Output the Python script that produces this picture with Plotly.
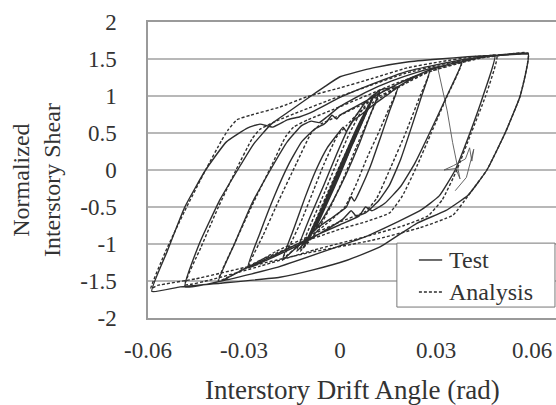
import plotly.graph_objects as go

# drift angle (rad) / normalized shear, one list per cycle
# each cycle: from +peak down to -peak, then back up to +peak

# --- Test (solid) ---
test_x_005 = [0.0, 0.005, 0.002, -0.001, -0.005, -0.002, 0.001, 0.005]
test_y_005 = [0.0, 0.50, 0.25, -0.05, -0.52, -0.25, 0.05, 0.50]

test_x_0075 = [0.0075, 0.004, 0.0, -0.004, -0.0075, -0.004, 0.0, 0.004, 0.0075]
test_y_0075 = [0.76, 0.45, 0.05, -0.35, -0.78, -0.45, -0.06, 0.36, 0.76]

test_x_010a = [0.0103, 0.007, 0.003, -0.002, -0.006, -0.0115, -0.008, -0.004, 0.0, 0.005, 0.0103]
test_y_010a = [0.98, 0.70, 0.30, -0.15, -0.55, -1.05, -0.78, -0.40, 0.0, 0.45, 0.98]

test_x_010b = [0.0103, 0.0065, 0.0025, -0.0025, -0.007, -0.0115, -0.0075, -0.0035, 0.0005, 0.0055, 0.0103]
test_y_010b = [0.98, 0.63, 0.22, -0.25, -0.66, -1.05, -0.70, -0.32, 0.06, 0.50, 0.98]

test_x_010c = [0.0105, 0.0075, 0.0035, -0.0015, -0.0055, -0.0112, -0.0085, -0.0045, -0.0005, 0.0045, 0.0105]
test_y_010c = [1.00, 0.74, 0.34, -0.12, -0.50, -1.02, -0.82, -0.44, -0.04, 0.40, 1.00]

test_x_0125 = [0.0125, 0.0095, 0.006, 0.002, -0.002, -0.006, -0.0105, -0.0135,
               -0.0095, -0.005, -0.001, 0.003, 0.008, 0.0125]
test_y_0125 = [1.08, 0.75, 0.35, -0.05, -0.40, -0.70, -0.95, -1.10,
               -0.65, -0.20, 0.22, 0.60, 0.92, 1.08]

test_x_018 = [0.018, 0.0155, 0.0125, 0.0095, 0.0065, 0.0045, 0.0035, 0.002, -0.003, -0.007, -0.011, -0.015, -0.018,
              -0.0145, -0.011, -0.0075, -0.004, -0.0005, 0.001, 0.002, 0.004, 0.007, 0.011, 0.015, 0.018]
test_y_018 = [1.12, 0.80, 0.42, 0.05, -0.25, -0.42, -0.36, -0.50, -0.66, -0.78, -0.95, -1.10, -1.22,
              -0.80, -0.38, 0.0, 0.30, 0.50, 0.58, 0.52, 0.66, 0.76, 0.90, 1.02, 1.12]

test_x_028 = [0.028, 0.0255, 0.0225, 0.019, 0.0155, 0.012, 0.008, 0.005, 0.0035, 0.001, -0.004, -0.01, -0.017, -0.023, -0.0288,
              -0.025, -0.0205, -0.016, -0.012, -0.008, -0.005, -0.004, -0.0025, -0.001, 0.0, 0.005, 0.011, 0.017, 0.023, 0.028]
test_y_028 = [1.35, 1.00, 0.60, 0.15, -0.20, -0.42, -0.58, -0.62, -0.55, -0.66, -0.80, -0.95, -1.10, -1.22, -1.32,
              -0.85, -0.35, 0.08, 0.38, 0.55, 0.62, 0.66, 0.74, 0.69, 0.74, 0.86, 1.00, 1.14, 1.26, 1.35]

test_x_038 = [0.038, 0.0334, 0.028, 0.0235, 0.019, 0.014, 0.01, 0.008, 0.006, 0.0, -0.01, -0.02, -0.03, -0.038,
              -0.033, -0.0275, -0.0215, -0.0165, -0.012, -0.009, -0.0065, -0.004, 0.0, 0.008, 0.016, 0.024, 0.031, 0.038]
test_y_038 = [1.46, 1.00, 0.50, 0.10, -0.22, -0.45, -0.55, -0.50, -0.62, -0.74, -0.93, -1.14, -1.34, -1.51,
              -1.00, -0.45, 0.02, 0.38, 0.60, 0.66, 0.64, 0.72, 0.86, 1.05, 1.20, 1.32, 1.40, 1.46]

test_x_049 = [0.0484, 0.0447, 0.0406, 0.036, 0.031, 0.025, 0.018, 0.008, -0.005, -0.02, -0.035, -0.0484,
              -0.044, -0.0375, -0.032, -0.027, -0.0215, -0.0156, -0.0094, -0.005, 0.0, 0.0103, 0.021, 0.031, 0.04, 0.0484]
test_y_049 = [1.55, 1.00, 0.50, 0.0, -0.35, -0.55, -0.70, -0.90, -1.10, -1.32, -1.48, -1.58,
              -1.00, -0.40, 0.0, 0.35, 0.62, 0.80, 0.99, 1.12, 1.26, 1.38, 1.46, 1.50, 1.53, 1.55]

test_x_059 = [0.0588, 0.0563, 0.0516, 0.0459, 0.040, 0.033, 0.024, 0.0125, 0.0022, -0.0084, -0.0188, -0.0375, -0.05, -0.0588,
              -0.054, -0.0485, -0.042, -0.0355, -0.0288, -0.025, -0.021, -0.0163, -0.0125, -0.008, 0.0, 0.01, 0.02, 0.03, 0.04, 0.05, 0.0588]
test_y_059 = [1.57, 1.00, 0.50, 0.0, -0.34, -0.55, -0.72, -1.04, -1.22, -1.35, -1.45, -1.53, -1.58, -1.64,
              -1.10, -0.50, 0.0, 0.38, 0.57, 0.62, 0.58, 0.68, 0.72, 0.80, 0.98, 1.16, 1.32, 1.42, 1.50, 1.55, 1.57]

# sudden drop seen in the test record near 0.035 rad
drop_x = [0.0306, 0.0335, 0.0352, 0.0375, 0.0362, 0.0325, 0.0355, 0.0392, 0.0405, 0.0412, 0.0418, 0.0395, 0.036]
drop_y = [1.37, 0.80, 0.37, -0.12, 0.02, 0.0, 0.06, 0.15, 0.30, 0.12, 0.28, -0.10, -0.28]

# --- Analysis (dashed) ---
ana_x_005 = [0.0, 0.005, 0.002, -0.001, -0.005, -0.002, 0.001, 0.005]
ana_y_005 = [0.0, 0.48, 0.20, -0.10, -0.50, -0.22, 0.08, 0.48]

ana_x_0067 = [0.0067, 0.003, -0.001, -0.0067, -0.003, 0.001, 0.0067]
ana_y_0067 = [0.66, 0.30, -0.10, -0.68, -0.32, 0.08, 0.66]

ana_x_010 = [0.0103, 0.006, 0.002, -0.003, -0.0075, -0.011, -0.007, -0.003, 0.002, 0.006, 0.0103]
ana_y_010 = [0.97, 0.56, 0.16, -0.33, -0.75, -1.03, -0.62, -0.22, 0.25, 0.62, 0.97]

ana_x_0125 = [0.0125, 0.009, 0.005, 0.001, -0.003, -0.0075, -0.0125, -0.009, -0.005, -0.001, 0.003, 0.0075, 0.0125]
ana_y_0125 = [1.05, 0.70, 0.30, -0.12, -0.50, -0.85, -1.10, -0.72, -0.32, 0.10, 0.50, 0.85, 1.05]

ana_x_018 = [0.018, 0.0155, 0.012, 0.0085, 0.005, 0.0015, -0.004, -0.011, -0.018,
             -0.0155, -0.012, -0.0085, -0.005, -0.001, 0.002, 0.006, 0.012, 0.018]
ana_y_018 = [1.11, 0.85, 0.50, 0.17, -0.20, -0.50, -0.72, -0.95, -1.20,
             -1.00, -0.68, -0.30, 0.08, 0.45, 0.60, 0.78, 0.96, 1.11]

ana_x_028 = [0.028, 0.025, 0.0205, 0.016, 0.0115, 0.008, 0.0, -0.01, -0.02, -0.0285,
             -0.024, -0.019, -0.0135, -0.009, -0.006, 0.0, 0.01, 0.02, 0.028]
ana_y_028 = [1.33, 1.00, 0.50, 0.05, -0.38, -0.56, -0.70, -0.90, -1.10, -1.30,
             -0.88, -0.40, 0.10, 0.50, 0.62, 0.74, 0.95, 1.16, 1.33]

ana_x_038 = [0.038, 0.0335, 0.0285, 0.024, 0.0195, 0.0155, 0.008, 0.0, -0.012, -0.025, -0.038,
             -0.033, -0.0275, -0.0215, -0.017, -0.0145, -0.01, -0.002, 0.008, 0.018, 0.028, 0.038]
ana_y_038 = [1.45, 1.00, 0.50, 0.05, -0.35, -0.58, -0.70, -0.80, -0.98, -1.22, -1.50,
             -1.00, -0.48, 0.05, 0.45, 0.58, 0.68, 0.82, 1.00, 1.18, 1.33, 1.45]

ana_x_049 = [0.049, 0.0455, 0.041, 0.0365, 0.032, 0.0275, 0.02, 0.008, -0.008, -0.025, -0.04, -0.0484,
             -0.0435, -0.038, -0.0325, -0.0275, -0.025, -0.02, -0.012, -0.003, 0.008, 0.02, 0.031, 0.041, 0.049]
ana_y_049 = [1.54, 1.00, 0.50, 0.0, -0.40, -0.62, -0.75, -0.90, -1.08, -1.30, -1.48, -1.55,
             -1.05, -0.50, 0.0, 0.42, 0.55, 0.66, 0.80, 0.95, 1.12, 1.30, 1.42, 1.50, 1.54]

ana_x_059 = [0.0588, 0.0563, 0.0516, 0.0459, 0.040, 0.0353, 0.025, 0.01, -0.01, -0.03, -0.045, -0.057, -0.0591,
             -0.0545, -0.0485, -0.042, -0.037, -0.035, -0.0322, -0.028, -0.0188, -0.0103, 0.0, 0.0103, 0.021, 0.031, 0.0416, 0.0588]
ana_y_059 = [1.58, 1.00, 0.50, 0.0, -0.35, -0.61, -0.78, -0.95, -1.12, -1.32, -1.47, -1.56, -1.60,
             -1.10, -0.55, 0.0, 0.40, 0.54, 0.68, 0.74, 0.85, 0.99, 1.11, 1.24, 1.38, 1.46, 1.53, 1.58]

test_x = ([0.0] + test_x_005 + test_x_0075 + test_x_010a + test_x_010b + test_x_010c + test_x_0125
          + test_x_018 + test_x_028 + test_x_038 + test_x_049 + test_x_059)
test_y = ([0.0] + test_y_005 + test_y_0075 + test_y_010a + test_y_010b + test_y_010c + test_y_0125
          + test_y_018 + test_y_028 + test_y_038 + test_y_049 + test_y_059)
ana_x = ana_x_005 + ana_x_0067 + ana_x_010 + ana_x_0125 + ana_x_018 + ana_x_028 + ana_x_038 + ana_x_049 + ana_x_059
ana_y = ana_y_005 + ana_y_0067 + ana_y_010 + ana_y_0125 + ana_y_018 + ana_y_028 + ana_y_038 + ana_y_049 + ana_y_059

line_col = "#2e2e2e"

fig = go.Figure()
fig.add_trace(go.Scatter(x=test_x, y=test_y, mode="lines", name="Test", showlegend=False,
                         line=dict(color=line_col, width=1.4, shape="spline", smoothing=0.4)))
fig.add_trace(go.Scatter(x=drop_x, y=drop_y, mode="lines", showlegend=False,
                         line=dict(color="#555", width=0.9)))
fig.add_trace(go.Scatter(x=ana_x, y=ana_y, mode="lines", name="Analysis", showlegend=False,
                         line=dict(color=line_col, width=1.4, dash="3px,2px", shape="spline", smoothing=0.4)))

fig.update_layout(
    width=556, height=405,
    margin=dict(l=148, r=0, t=22, b=87),
    plot_bgcolor="white", paper_bgcolor="white",
    font=dict(family="Liberation Serif", size=23, color="#333"),
    showlegend=False,
)
fig.update_xaxes(range=[-0.06, 0.0675],
                 tickvals=[-0.06, -0.03, 0, 0.03, 0.06],
                 ticktext=["-0.06", "-0.03", "0", "0.03", "0.06"],
                 showgrid=False, zeroline=False, showline=True, mirror=True,
                 linecolor="#9a9a9a", linewidth=1.5, ticklabelstandoff=11)
fig.update_yaxes(range=[-2, 2],
                 tickvals=[-2, -1.5, -1, -0.5, 0, 0.5, 1, 1.5, 2],
                 ticktext=["-2", "-1.5", "-1", "-0.5", "0", "0.5", "1", "1.5", "2"],
                 showgrid=True, gridcolor="#b8b8b8", gridwidth=1.5,
                 zeroline=False, showline=True, linecolor="#9a9a9a", linewidth=1.5,
                 ticklabelstandoff=25)

fig.add_annotation(text="Normalized<br>Interstory Shear", xref="paper", yref="paper",
                   x=-0.2745, y=0.466, xanchor="center", yanchor="middle",
                   textangle=-90, showarrow=False, font=dict(size=24))
fig.add_annotation(text="Interstory Drift Angle (rad)", xref="paper", yref="paper",
                   x=0.5, y=-0.243, xanchor="center", yanchor="middle",
                   showarrow=False, font=dict(size=27))

# legend box drawn by hand so the short line samples match
fig.add_shape(type="rect", xref="paper", yref="paper", x0=0.610, x1=0.9975, y0=0.037, y1=0.253,
              line=dict(color="#777", width=1), fillcolor="white", layer="above")
fig.add_shape(type="line", xref="paper", yref="paper", x0=0.664, x1=0.721, y0=0.196, y1=0.196,
              line=dict(color=line_col, width=1.4), layer="above")
fig.add_shape(type="line", xref="paper", yref="paper", x0=0.664, x1=0.721, y0=0.088, y1=0.088,
              line=dict(color=line_col, width=1.4, dash="3px,2px"), layer="above")
fig.add_annotation(text="Test", xref="paper", yref="paper", x=0.733, y=0.196,
                   xanchor="left", yanchor="middle", showarrow=False, font=dict(size=24))
fig.add_annotation(text="Analysis", xref="paper", yref="paper", x=0.733, y=0.088,
                   xanchor="left", yanchor="middle", showarrow=False, font=dict(size=24))

# drop the default 8px body margin so the figure fills the window exactly
fig.write_html("out.html", config={"displayModeBar": False},
               post_script="document.body.style.margin='0';")
